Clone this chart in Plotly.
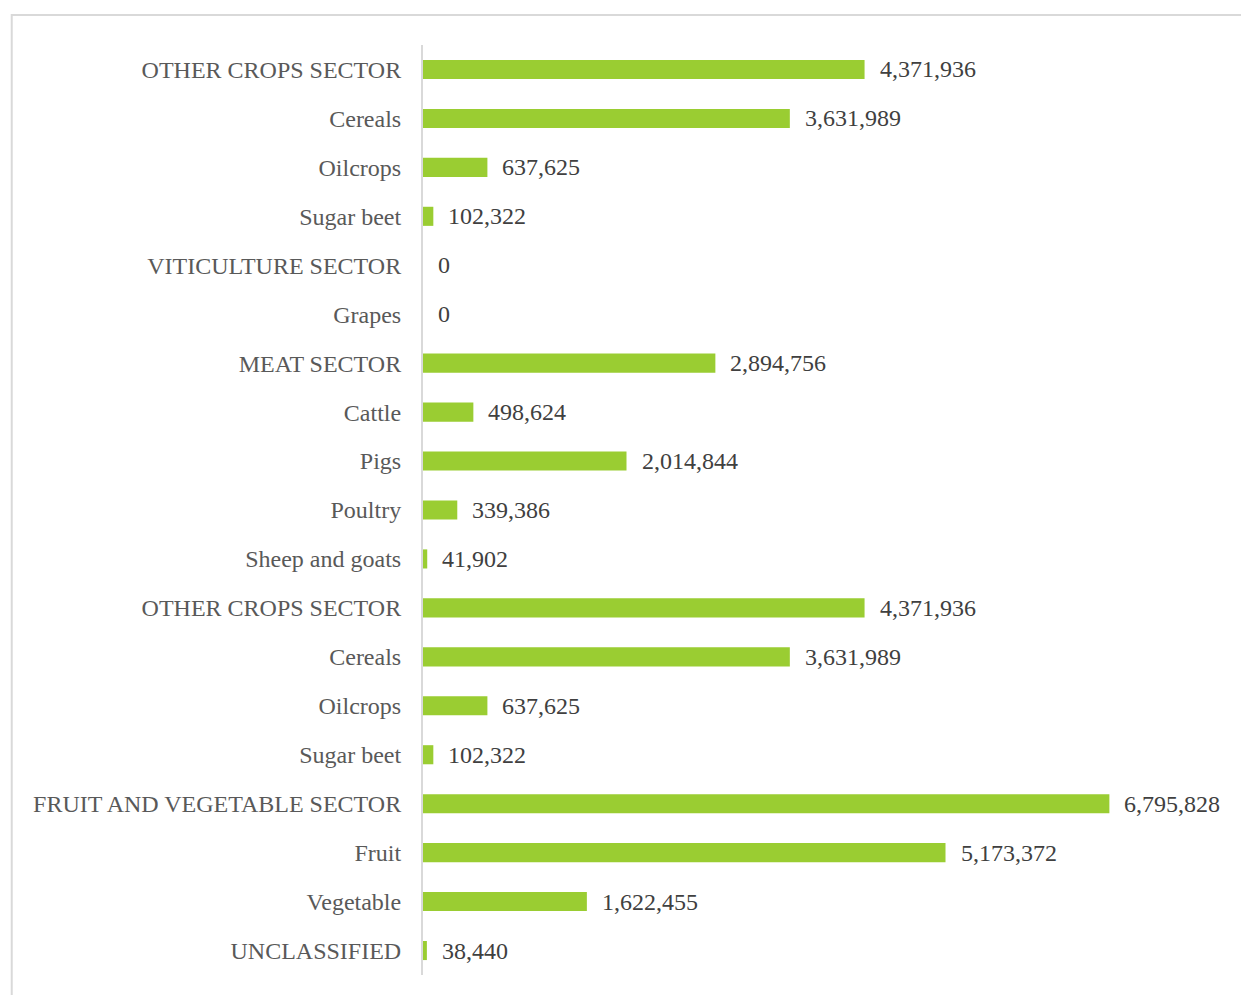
import plotly.graph_objects as go

# Categories (top to bottom) and values
categories = [
    "OTHER CROPS SECTOR", "Cereals", "Oilcrops", "Sugar beet",
    "VITICULTURE SECTOR", "Grapes",
    "MEAT SECTOR", "Cattle", "Pigs", "Poultry", "Sheep and goats",
    "OTHER CROPS SECTOR", "Cereals", "Oilcrops", "Sugar beet",
    "FRUIT AND VEGETABLE SECTOR", "Fruit", "Vegetable",
    "UNCLASSIFIED",
]
values = [
    4371936, 3631989, 637625, 102322,
    0, 0,
    2894756, 498624, 2014844, 339386, 41902,
    4371936, 3631989, 637625, 102322,
    6795828, 5173372, 1622455,
    38440,
]

positions = list(range(len(categories)))
label_font = "Times New Roman, Liberation Serif, serif"

fig = go.Figure()
fig.add_trace(go.Bar(
    x=values, y=positions, orientation="h",
    marker=dict(color="#9ACD32", line=dict(width=0)),
    hoverinfo="x+y",
))

# Data labels to the right of each bar
for p, v in zip(positions, values):
    fig.add_annotation(
        x=v, y=p, text=f"{v:,}", showarrow=False,
        xanchor="left", yanchor="middle", xshift=13,
        font=dict(family=label_font, size=24, color="#404040"),
    )

fig.update_layout(
    width=1241, height=987,
    margin=dict(l=415, r=18, t=37, b=20),
    paper_bgcolor="white", plot_bgcolor="white",
    bargap=0.61, showlegend=False,
    font=dict(family=label_font, size=24, color="#595959"),
)
fig.update_xaxes(range=[0, 8000000], visible=False, showgrid=False)
fig.update_yaxes(
    tickvals=positions, ticktext=categories,
    range=[len(categories) - 0.5, -0.5],
    showline=True, linecolor="#d9d9d9", linewidth=2,
    showgrid=False, zeroline=False, ticks="",
    ticklabelstandoff=15,
    tickfont=dict(family=label_font, size=24, color="#595959"),
)

# Chart frame (extends beyond the picture on right and bottom)
fig.add_shape(
    type="rect", xref="paper", yref="paper",
    x0=-0.509, x1=1.2, y0=-0.2, y1=1.0323,
    line=dict(color="#d9d9d9", width=2), fillcolor="rgba(0,0,0,0)",
    layer="below",
)

fig.write_html("out.html")
